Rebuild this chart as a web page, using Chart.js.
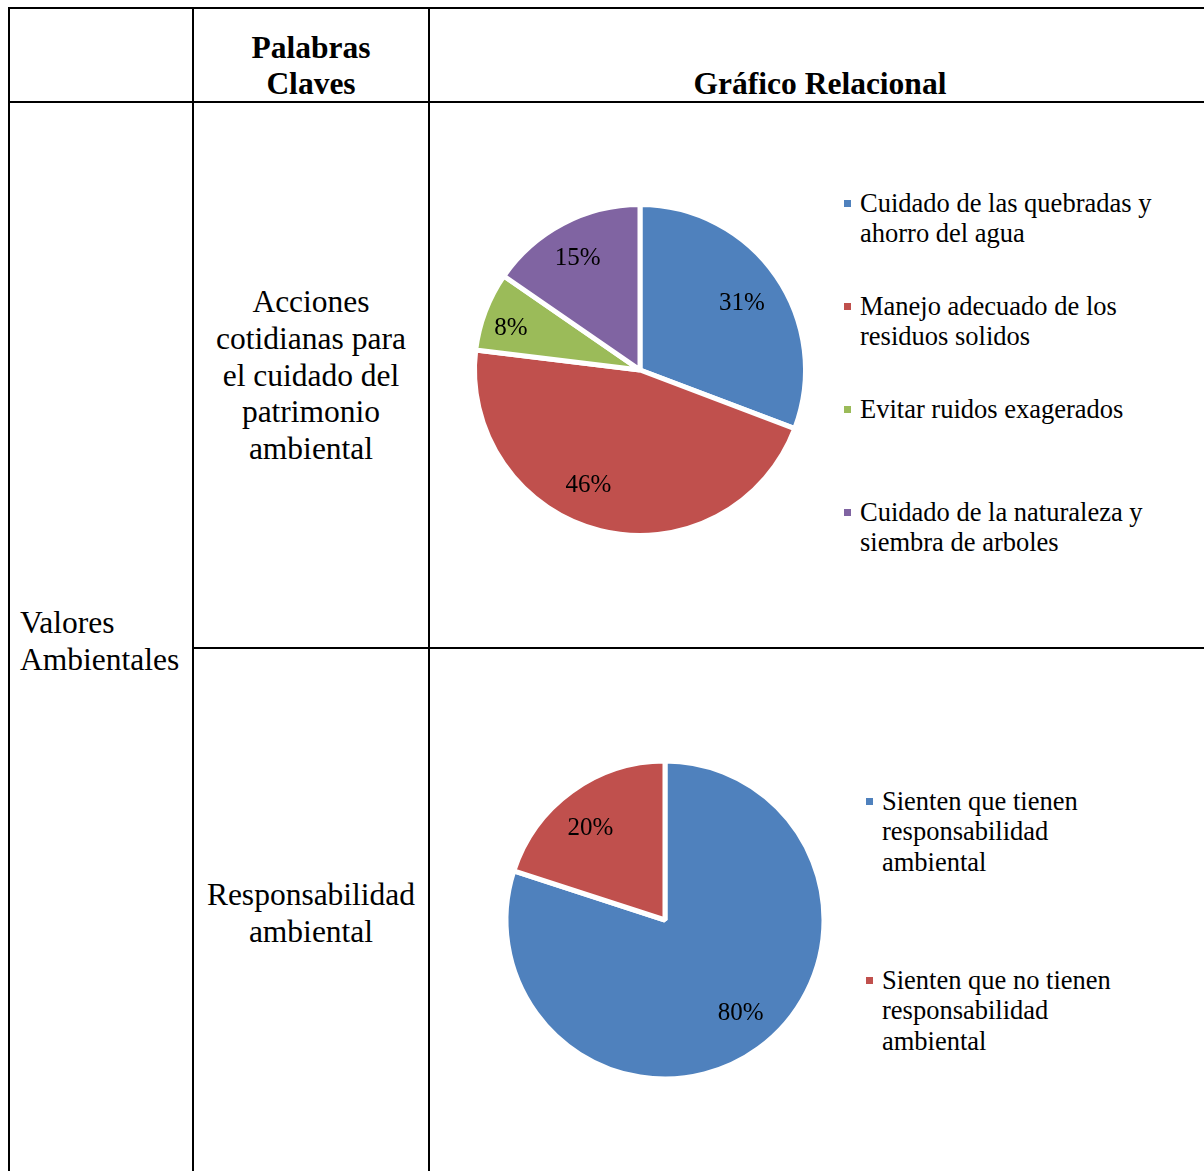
<!DOCTYPE html>
<html>
<head>
<meta charset="utf-8">
<script src="https://cdn.jsdelivr.net/npm/chart.js@4.4.1/dist/chart.umd.min.js"></script>
<style>
  html, body { margin: 0; padding: 0; background: #fff; }
  body { width: 1204px; height: 1171px; position: relative; overflow: hidden; font-family: "Liberation Serif", "Times New Roman", serif; color: #000; }
  .rule { position: absolute; background: #000; }
  .cell { position: absolute; font-size: 31.5px; line-height: 36.75px; white-space: nowrap; }
  .bold { font-weight: bold; }
  .center { text-align: center; }
  canvas { position: absolute; }
  .legend-text { position: absolute; font-size: 26.5px; line-height: 30.5px; }
  .legend-box { position: absolute; width: 7px; height: 7px; }
</style>
</head>
<body>

<!-- table grid -->
<div class="rule" style="left:8px; top:7px; width:1196px; height:2px;"></div>
<div class="rule" style="left:8px; top:7px; width:2px; height:1164px;"></div>
<div class="rule" style="left:192px; top:7px; width:2px; height:1164px;"></div>
<div class="rule" style="left:428px; top:7px; width:2px; height:1164px;"></div>
<div class="rule" style="left:8px; top:101px; width:1196px; height:2px;"></div>
<div class="rule" style="left:192px; top:647px; width:1012px; height:2px;"></div>

<!-- cell texts -->
<div class="cell bold center" style="left:194px; width:234px; top:30px; line-height:36px;">Palabras<br>Claves</div>
<div class="cell bold center" style="left:620px; width:400px; top:66px; line-height:36px;">Gráfico Relacional</div>
<div class="cell center" style="left:194px; width:234px; top:284px;">Acciones<br>cotidianas para<br>el cuidado del<br>patrimonio<br>ambiental</div>
<div class="cell center" style="left:194px; width:234px; top:877px;">Responsabilidad<br>ambiental</div>
<div class="cell" style="left:20px; top:604px; line-height:37px;">Valores<br>Ambientales</div>

<canvas id="pieAcciones" width="360" height="360" style="left:460px; top:190px;"></canvas>
<canvas id="pieResponsabilidad" width="360" height="360" style="left:485px; top:740px;"></canvas>

<div id="legendAcciones"></div>
<div id="legendResponsabilidad"></div>

<script>
// Data
const accionesLabels = [
    'Cuidado de las quebradas y ahorro del agua',
    'Manejo adecuado de los residuos solidos',
    'Evitar ruidos exagerados',
    'Cuidado de la naturaleza y siembra de arboles'
];
const accionesValues = [4, 6, 1, 2];

const responsabilidadLabels = [
    'Sienten que tienen responsabilidad ambiental',
    'Sienten que no tienen responsabilidad ambiental'
];
const responsabilidadValues = [80, 20];

// Style
const blue = '#4f81bd';
const red = '#c0504d';
const green = '#9bbb59';
const purple = '#8064a2';
const sliceColors = [blue, red, green, purple];
const sliceBorder = 5;
const labelFontSize = 25;

// percentage text inside each slice (small nudges mimic the "best fit" placement)
const percentLabels = {
    id: 'percentLabels',
    afterDatasetsDraw(chart, args, options) {
        const ctx = chart.ctx;
        const meta = chart.getDatasetMeta(0);
        const values = chart.data.datasets[0].data;
        const total = values.reduce((a, b) => a + b, 0);
        const nudge = options.nudge || [];
        ctx.save();
        ctx.font = labelFontSize + 'px "Liberation Serif"';
        ctx.fillStyle = '#000';
        ctx.textAlign = 'center';
        ctx.textBaseline = 'alphabetic';
        meta.data.forEach(function (arc, i) {
            const p = arc.getProps(['x', 'y', 'startAngle', 'endAngle', 'outerRadius'], true);
            const mid = (p.startAngle + p.endAngle) / 2;
            const r = p.outerRadius * options.ratio;
            const d = nudge[i] || [0, 0];
            const text = Math.round(values[i] / total * 100) + '%';
            ctx.fillText(text, p.x + Math.cos(mid) * r + d[0], p.y + Math.sin(mid) * r + labelFontSize * 0.33 + d[1]);
        });
        ctx.restore();
    }
};

const makePie = function (id, labels, values, radius, ratio, nudge) {
    return new Chart(document.getElementById(id), {
        type: 'pie',
        data: {
            labels: labels,
            datasets: [{
                data: values,
                backgroundColor: sliceColors.slice(0, values.length),
                borderColor: '#ffffff',
                borderWidth: sliceBorder,
            }],
        },
        plugins: [percentLabels],
        options: {
            responsive: false,
            animation: false,
            radius: radius,
            layout: {padding: 0},
            plugins: {
                legend: {display: false},
                tooltip: {enabled: false},
                title: {display: false},
                percentLabels: {ratio: ratio, nudge: nudge},
            },
        },
    });
};

// html legend built from the chart's own labels and colours
const buildLegend = function (chart, holderId, left, firstBaseline, step, width) {
    const holder = document.getElementById(holderId);
    const items = chart.options.plugins.legend.labels.generateLabels(chart);
    items.forEach(function (item, i) {
        const baseline = firstBaseline + i * step;
        const box = document.createElement('div');
        box.className = 'legend-box';
        box.style.background = item.fillStyle;
        box.style.left = (left - 16) + 'px';
        box.style.top = (baseline - 12) + 'px';
        holder.appendChild(box);
        const txt = document.createElement('div');
        txt.className = 'legend-text';
        txt.textContent = item.text;
        txt.style.left = left + 'px';
        txt.style.top = (baseline - 24.2) + 'px';
        txt.style.width = width + 'px';
        holder.appendChild(txt);
    });
};

const accionesChart = makePie('pieAcciones', accionesLabels, accionesValues, 165.5, 0.77,
    [[-3, 4], [-21, -10], [-10, 2], [-3, 0]]);
const responsabilidadChart = makePie('pieResponsabilidad', responsabilidadLabels, responsabilidadValues, 159, 0.755,
    [[5, -5], [-4, 4]]);

buildLegend(accionesChart, 'legendAcciones', 860, 212, 103, 305);
buildLegend(responsabilidadChart, 'legendResponsabilidad', 882, 810, 179, 245);
</script>
</body>
</html>
